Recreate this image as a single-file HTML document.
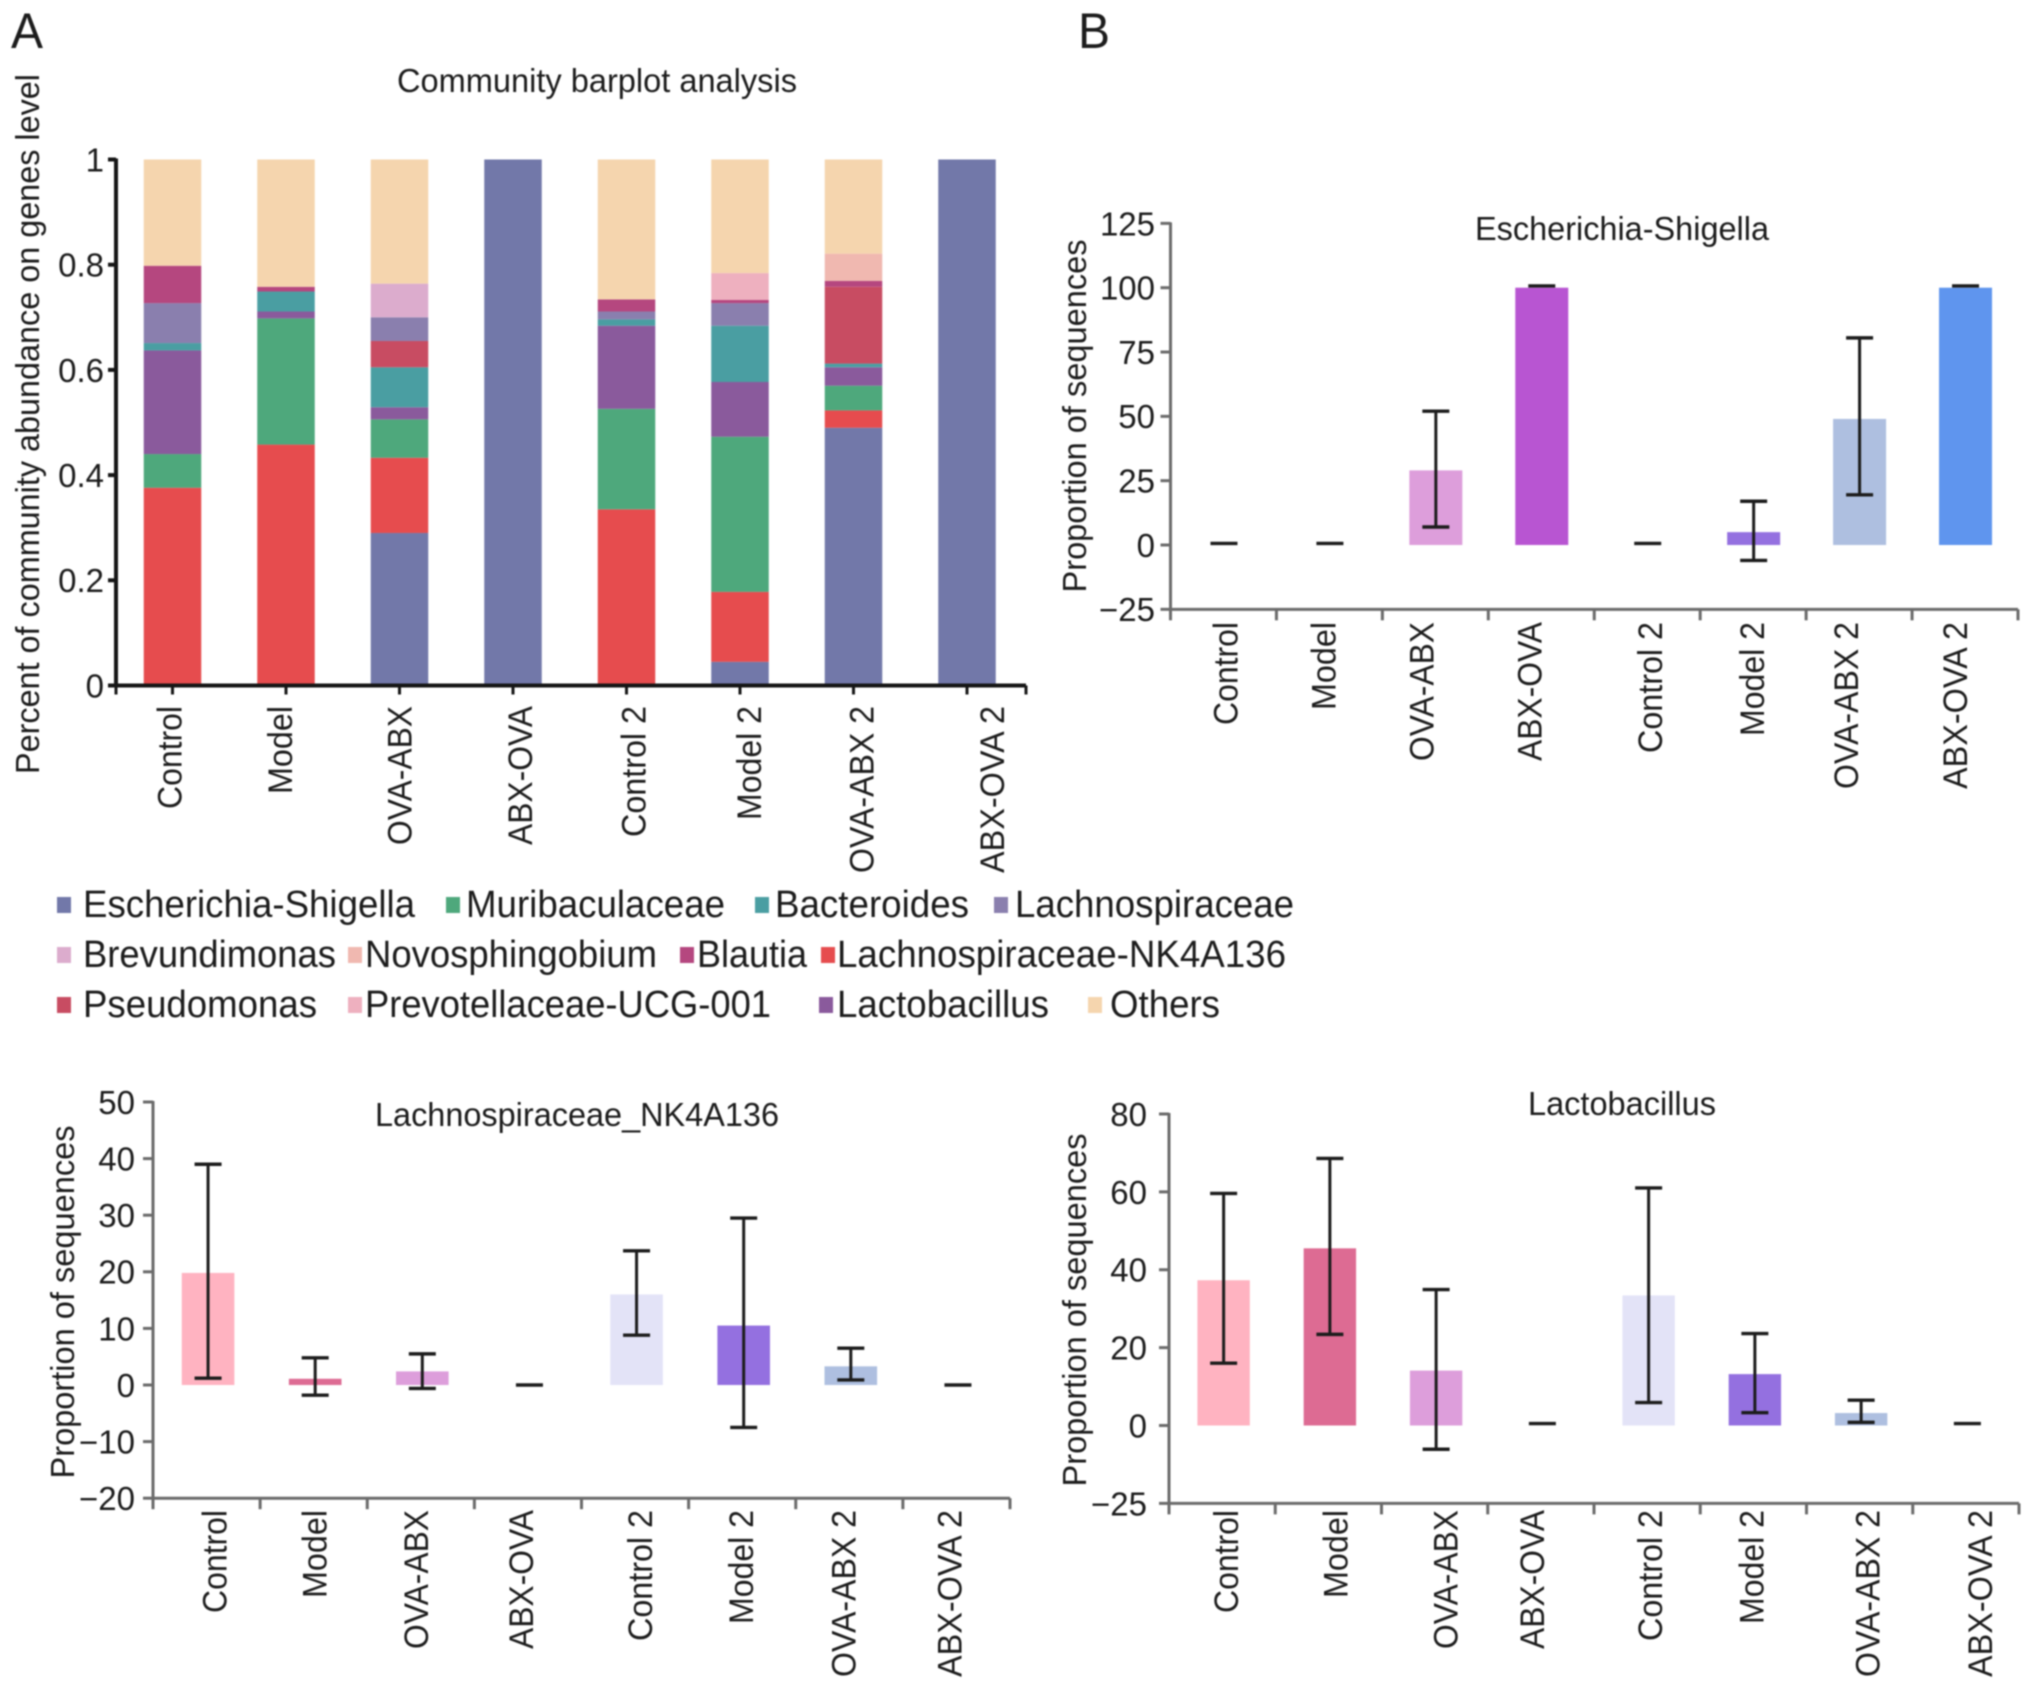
<!DOCTYPE html>
<html lang="en">
<head>
<meta charset="utf-8">
<title>Community barplot analysis</title>
<style>
html,body{margin:0;padding:0;background:#fff;}
#figure{display:block;width:2032px;height:1690px;filter:blur(0.7px);}
text{font-family:"Liberation Sans",sans-serif;fill:#1c1c1c;}
</style>
</head>
<body>
<svg id="figure" xmlns="http://www.w3.org/2000/svg" width="2032" height="1690" viewBox="0 0 2032 1690">
  <rect x="0" y="0" width="2032" height="1690" fill="#fff"/>
  <text x="11" y="48" font-size="50" textLength="32" lengthAdjust="spacingAndGlyphs">A</text>
  <text x="1078" y="48" font-size="50" textLength="32" lengthAdjust="spacingAndGlyphs">B</text>

  <g id="stack-chart"></g>
  <g id="chart-escherichia"></g>
  <g id="chart-lachno"></g>
  <g id="chart-lacto"></g>

  <g id="legend" font-size="38">
    <g><rect x="57" y="897" width="14" height="16" fill="#7278a9"/><text x="83" y="917" textLength="332" lengthAdjust="spacingAndGlyphs">Escherichia-Shigella</text></g>
    <g><rect x="446" y="897" width="14" height="16" fill="#4ea87c"/><text x="466" y="917" textLength="259" lengthAdjust="spacingAndGlyphs">Muribaculaceae</text></g>
    <g><rect x="755" y="897" width="14" height="16" fill="#4a9ea2"/><text x="775" y="917" textLength="194" lengthAdjust="spacingAndGlyphs">Bacteroides</text></g>
    <g><rect x="994" y="897" width="14" height="16" fill="#8a7fae"/><text x="1015" y="917" textLength="279" lengthAdjust="spacingAndGlyphs">Lachnospiraceae</text></g>
    <g><rect x="57" y="947" width="14" height="16" fill="#dcaccd"/><text x="83" y="967" textLength="253" lengthAdjust="spacingAndGlyphs">Brevundimonas</text></g>
    <g><rect x="348" y="947" width="14" height="16" fill="#f0b8b0"/><text x="365" y="967" textLength="292" lengthAdjust="spacingAndGlyphs">Novosphingobium</text></g>
    <g><rect x="680" y="947" width="14" height="16" fill="#b5477f"/><text x="697" y="967" textLength="110" lengthAdjust="spacingAndGlyphs">Blautia</text></g>
    <g><rect x="821" y="947" width="14" height="16" fill="#e64c4e"/><text x="837" y="967" textLength="449" lengthAdjust="spacingAndGlyphs">Lachnospiraceae-NK4A136</text></g>
    <g><rect x="57" y="997" width="14" height="16" fill="#c84c62"/><text x="83" y="1017" textLength="234" lengthAdjust="spacingAndGlyphs">Pseudomonas</text></g>
    <g><rect x="348" y="997" width="14" height="16" fill="#eeb0bf"/><text x="365" y="1017" textLength="406" lengthAdjust="spacingAndGlyphs">Prevotellaceae-UCG-001</text></g>
    <g><rect x="819" y="997" width="14" height="16" fill="#8a5a9c"/><text x="837" y="1017" textLength="212" lengthAdjust="spacingAndGlyphs">Lactobacillus</text></g>
    <g><rect x="1088" y="997" width="14" height="16" fill="#f5d5ae"/><text x="1110" y="1017" textLength="110" lengthAdjust="spacingAndGlyphs">Others</text></g>
  </g>
</svg>

<script>
// ---- shared categories ----
const categories = ['Control','Model','OVA-ABX','ABX-OVA','Control 2','Model 2','OVA-ABX 2','ABX-OVA 2'];

// ---- panel A: stacked proportions (bottom to top) per category ----
const stackTicks = [0,0.2,0.4,0.6,0.8,1];
const stackTickLabels = ['0','0.2','0.4','0.6','0.8','1'];
const escherichia   = [0,0,0.29,1,0,0.045,0.49,1];
const nk4a136       = [0.376,0.458,0.143,0,0.335,0.133,0.033,0];
const muribaculaceae= [0.064,0.24,0.073,0,0.191,0.295,0.047,0];
const lactobacillus = [0.197,0.013,0.023,0,0.158,0.104,0.035,0];
const bacteroides   = [0.014,0.038,0.076,0,0.012,0.107,0.007,0];
const pseudomonas   = [0,0,0.05,0,0,0,0.146,0];
const lachnospiraceae=[0.076,0,0.045,0,0.015,0.043,0,0];
const brevundimonas = [0,0,0.064,0,0,0,0,0];
const blautia       = [0.071,0.009,0,0,0.023,0.006,0.011,0];
const novosphingobium=[0,0,0,0,0,0,0.052,0];
const prevotellaceae= [0,0,0,0,0,0.051,0,0];
const others        = [0.202,0.242,0.236,0,0.266,0.216,0.179,0];

// ---- panel B: means and error-bar limits ----
const esTicks = [125,100,75,50,25,0,-25];
const esTickLabels = ['125','100','75','50','25','0','\u221225'];
const esMeans = [0,0,29,100,0,5,49,100];
const esUpper = [0.6,0.6,52,100.7,0.6,17,80.5,100.7];
const esLower = [0.6,0.6,7,100.7,0.6,-6,19.5,100.7];

const naTicks = [50,40,30,20,10,0,-10,-20];
const naTickLabels = ['50','40','30','20','10','0','\u221210','\u221220'];
const naMeans = [19.8,1.1,2.4,0,16,10.5,3.3,0];
const naUpper = [39,4.8,5.5,0,23.7,29.5,6.5,0];
const naLower = [1.2,-1.8,-0.6,0,8.8,-7.5,0.9,0];

const laTicks = [80,60,40,20,0,-20];
const laTickLabels = ['80','60','40','20','0','\u221225'];
const laMeans = [37.3,45.5,14.1,0,33.4,13.2,3.2,0];
const laUpper = [59.6,68.6,34.9,0.5,61,23.6,6.5,0.5];
const laLower = [16,23.4,-6.1,0.5,5.9,3.3,0.8,0.5];

// ---- styling ----
const stackOrder = [
  ['escherichia-shigella',escherichia,'#7278a9'],
  ['lachnospiraceae-nk4a136',nk4a136,'#e64c4e'],
  ['muribaculaceae',muribaculaceae,'#4ea87c'],
  ['lactobacillus',lactobacillus,'#8a5a9c'],
  ['bacteroides',bacteroides,'#4a9ea2'],
  ['pseudomonas',pseudomonas,'#c84c62'],
  ['lachnospiraceae',lachnospiraceae,'#8a7fae'],
  ['brevundimonas',brevundimonas,'#dcaccd'],
  ['blautia',blautia,'#b5477f'],
  ['novosphingobium',novosphingobium,'#f0b8b0'],
  ['prevotellaceae',prevotellaceae,'#eeb0bf'],
  ['others',others,'#f5d5ae']
];
const barColors = ['#ffb3c1','#dd6b93','#dd9edb','#b855d2','#e3e3f7','#9470e0','#aebfe0','#5f95ee'];
const labelLengths = {'Control':103,'Model':88,'OVA-ABX':139,'ABX-OVA':139,'Control 2':131,'Model 2':114,'OVA-ABX 2':167,'ABX-OVA 2':167};

const NS = 'http://www.w3.org/2000/svg';
function make(parent, tag, attrs, content){
  const n = document.createElementNS(NS, tag);
  for (const k in attrs) n.setAttribute(k, attrs[k]);
  if (content !== undefined) n.textContent = content;
  parent.appendChild(n);
  return n;
}
function slug(s){ return s.toLowerCase().replace(/[^a-z0-9]+/g,'-'); }

function drawLabel(g, text, x, y, size, rotate, length){
  const attrs = {'font-size':size};
  if (rotate){
    attrs.transform = 'translate('+x+','+y+') rotate(-90)';
    attrs['text-anchor'] = 'end';
  } else {
    attrs.x = x; attrs.y = y;
    attrs['text-anchor'] = 'middle';
  }
  if (length){ attrs.textLength = length; attrs.lengthAdjust = 'spacingAndGlyphs'; }
  return make(g, 'text', attrs, text);
}

function drawCategoryLabels(g, shifts, centerOf, top, baselineOffset){
  categories.forEach(function(c,i){
    const t = drawLabel(g, c, centerOf(i)+shifts[i]+baselineOffset, top, 34, true, labelLengths[c]);
    
    
  });
}

function drawYAxis(g, ticks, labels, y, x0, labelRight, color, w, tickLen, size){
  const axis = make(g,'line',{x1:x0,x2:x0,y1:y(ticks[0])-1,y2:y(ticks[ticks.length-1])+1,stroke:color,'stroke-width':w});
  
  
  ticks.forEach(function(v,i){
    const tk = make(g,'line',{x1:x0-tickLen,x2:x0,y1:y(v),y2:y(v),stroke:color,'stroke-width':w});
    
    
    const t = make(g,'text',{x:labelRight,y:y(v)+size*0.36,'font-size':size,'text-anchor':'end'},labels[i]);
    
    
  });
}

// ---- panel A ----
(function(){
  const g = document.getElementById('stack-chart');
  const x0 = 116, x1 = 1026, yBase = 685.5, yTop = 159.5, first = 172.5, pitch = 113.5, bw = 57.5;
  const y = function(v){ return yBase - v*(yBase-yTop); };
  const cx = function(i){ return first + i*pitch; };

  categories.forEach(function(c,i){
    let acc = 0;
    stackOrder.forEach(function(s){
      const v = s[1][i];
      if (!v) return;
      const r = make(g,'rect',{x:cx(i)-bw/2,y:y(acc+v),width:bw,height:y(acc)-y(acc+v),fill:s[2]});
      
      
      acc += v;
    });
  });

  drawYAxis(g, stackTicks.slice().reverse(), stackTickLabels.slice().reverse(), y, x0, 104, '#161616', 4, 8, 33);
  const xa = make(g,'line',{x1:x0-2,x2:x1,y1:yBase,y2:yBase,stroke:'#161616','stroke-width':4});
  
  
  [x0,x1].concat(categories.map(function(c,i){return cx(i);})).forEach(function(x){
    const tk = make(g,'line',{x1:x,x2:x,y1:yBase,y2:yBase+9,stroke:'#161616','stroke-width':3});
    
    
  });

  const title = drawLabel(g,'Community barplot analysis',597,92,33,false,400);
  
  
  const yt = make(g,'text',{transform:'translate(39,424) rotate(-90)','font-size':33,'text-anchor':'middle',textLength:700,lengthAdjust:'spacingAndGlyphs'},'Percent of community abundance on genes level');
  
  

  drawCategoryLabels(g,[-3,-6,0,7,7,9,8,25],cx,706,12);
})();

// ---- panel B charts ----
function errorChart(o){
  const g = document.getElementById(o.id);
  const yUnit = (o.yA - o.yB)/(o.vB - o.vA);
  const y = function(v){ return o.yA + (o.vA - v)*yUnit; };
  const pitch = (o.x1 - o.x0)/categories.length;
  const cx = function(i){ return o.x0 + (i+0.5)*pitch + o.barShift; };

  categories.forEach(function(c,i){
    if (o.means[i] > 0){
      const r = make(g,'rect',{x:cx(i)-o.barW/2,y:y(o.means[i]),width:o.barW,height:y(0)-y(o.means[i]),fill:barColors[i]});
      
      
    }
    const up = y(o.upper[i]), lo = y(o.lower[i]);
    const capHalf = 13.5;
    if (up !== lo){
      const st = make(g,'line',{x1:cx(i),x2:cx(i),y1:up,y2:lo,stroke:'#1c1c1c','stroke-width':3});
      
      
    }
    const capU = make(g,'line',{x1:cx(i)-capHalf,x2:cx(i)+capHalf,y1:up,y2:up,stroke:'#1c1c1c','stroke-width':3.4});
    
    
    if (up !== lo){
      const capL = make(g,'line',{x1:cx(i)-capHalf,x2:cx(i)+capHalf,y1:lo,y2:lo,stroke:'#1c1c1c','stroke-width':3.4});
      
      
    }
  });

  const color = '#6b6b6b';
  drawYAxis(g, o.ticks, o.tickLabels, y, o.x0, o.labelRight, color, 3, 10, 33);
  const base = y(o.ticks[o.ticks.length-1]);
  const xa = make(g,'line',{x1:o.x0,x2:o.x1,y1:base,y2:base,stroke:color,'stroke-width':3});
  
  
  categories.concat(['end']).forEach(function(c,i){
    const x = o.x0 + i*pitch;
    const tk = make(g,'line',{x1:x,x2:x,y1:base,y2:base+11,stroke:color,'stroke-width':3});
    
    
  });

  const title = drawLabel(g,o.title,o.titleX,o.titleY,33,false,o.titleW);
  
  
  const yt = make(g,'text',{transform:'translate('+o.yTitleX+','+o.yTitleY+') rotate(-90)','font-size':33,'text-anchor':'middle',textLength:353,lengthAdjust:'spacingAndGlyphs'},'Proportion of sequences');
  
  

  const plainCenter = function(i){ return o.x0 + (i+0.5)*pitch; };
  drawCategoryLabels(g,o.labelShifts,plainCenter,o.labelTop,12);
}

errorChart({id:'chart-escherichia',title:'Escherichia-Shigella',titleX:1622,titleY:240,titleW:294,
  x0:1170.5,x1:2018,vA:100,yA:287.7,vB:0,yB:545,barW:53,barShift:0.5,
  ticks:esTicks,tickLabels:esTickLabels,means:esMeans,upper:esUpper,lower:esLower,
  labelRight:1155,yTitleX:1086,yTitleY:416,labelTop:622,labelShifts:[2,-6,-14,-12,3,-1,-13,-10]});

errorChart({id:'chart-lachno',title:'Lachnospiraceae_NK4A136',titleX:577,titleY:1126,titleW:404,
  x0:153,x1:1010,vA:50,yA:1102,vB:0,yB:1385,barW:52.6,barShift:1.5,
  ticks:naTicks,tickLabels:naTickLabels,means:naMeans,upper:naUpper,lower:naLower,
  labelRight:135,yTitleX:74,yTitleY:1302,labelTop:1510,labelShifts:[8,1,-5,-7,5,-1,-6,-7]});

errorChart({id:'chart-lacto',title:'Lactobacillus',titleX:1622,titleY:1115,titleW:188,
  x0:1169,x1:2019,vA:80,yA:1114,vB:0,yB:1425.5,barW:52.4,barShift:1.5,
  ticks:laTicks,tickLabels:laTickLabels,means:laMeans,upper:laUpper,lower:laLower,
  labelRight:1147,yTitleX:1086,yTitleY:1310,labelTop:1510,labelShifts:[4,7,11,-9,3,-2,8,14]});
</script>
</body>
</html>
